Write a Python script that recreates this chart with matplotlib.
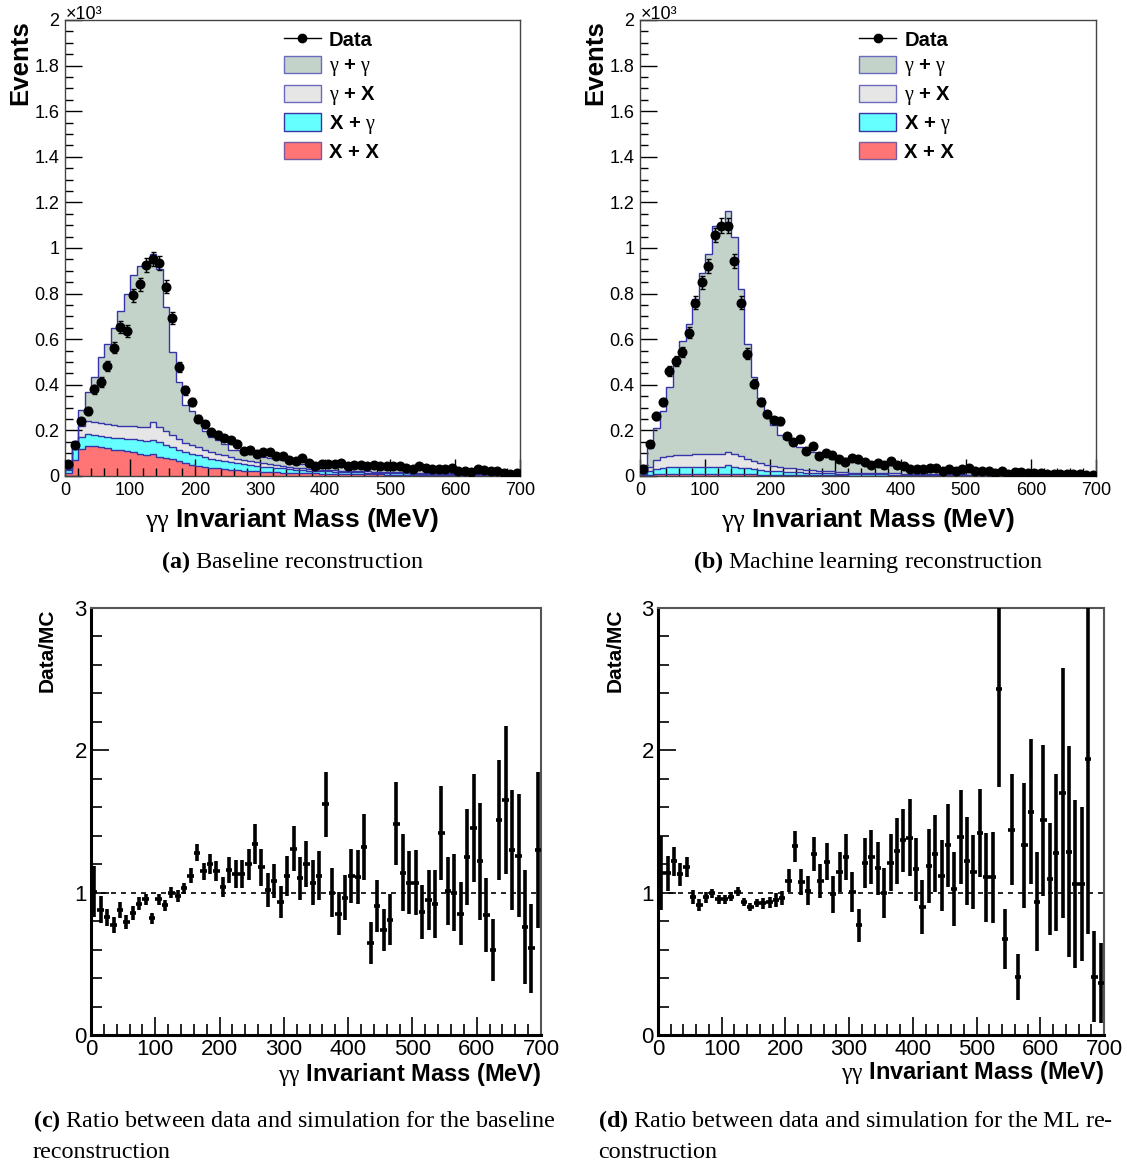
import numpy as np
import matplotlib
matplotlib.use("Agg")
import matplotlib.pyplot as plt
from matplotlib.lines import Line2D
from matplotlib.patches import Patch
from matplotlib.ticker import MultipleLocator, FuncFormatter

plt.rcParams['font.family'] = ['Liberation Sans', 'DejaVu Sans']
plt.rcParams['mathtext.fontset'] = 'custom'
plt.rcParams['mathtext.rm'] = 'Liberation Serif'
plt.rcParams['mathtext.it'] = 'Liberation Serif:italic'
plt.rcParams['mathtext.bf'] = 'Liberation Serif:bold'

# ---------------- data ----------------
edges = np.arange(0, 701, 10)
centers = edges[:-1] + 5

# Panel (a): baseline reconstruction
data_a = [54, 137, 240, 285, 380, 412, 481, 562, 654, 636, 792, 840, 925, 952, 935, 830, 694, 478, 376, 325,
          251, 226, 193, 182, 166, 156, 140, 108, 115, 98, 105, 105, 87, 87, 68, 65, 81, 56, 46, 54, 54, 54, 56,
          43, 48, 48, 43, 49, 43, 45, 45, 43, 34, 29, 43, 36, 29, 29, 29, 36, 21, 21, 17, 29, 25, 21, 21, 11, 8, 11]
mc_total_a = [50, 152, 290, 367, 433, 520, 580, 650, 725, 800, 880, 922, 930, 972, 908, 740, 542, 414, 312, 283,
              236, 198, 172, 160, 140, 116, 112, 103, 98, 94, 85, 78, 76, 70, 64, 58, 52, 54, 52, 52, 48, 48, 44,
              50, 48, 46, 45, 40, 39, 40, 40, 39, 36, 33, 31, 32, 29, 30, 26, 25, 21, 22, 22, 18, 16, 16, 16, 13, 12, 9]
xx_a = [15, 70, 118, 133, 130, 126, 122, 116, 112, 108, 104, 98, 92, 95, 85, 78, 74, 66, 58, 50,
        42, 38, 36, 33, 30, 28, 26, 24, 22, 21, 19, 18, 17, 15, 14, 13, 12, 11, 11, 10,
        10, 9, 9, 8, 8, 8, 7, 7, 7, 6, 6, 6, 5, 5, 5, 5, 4, 4, 4, 4, 4, 3, 3, 3, 3, 3, 2, 2, 2, 2]
xg_a = [10, 50, 52, 52, 50, 50, 50, 52, 54, 56, 58, 60, 62, 65, 62, 58, 52, 48, 46, 46,
        48, 44, 40, 37, 35, 32, 30, 28, 26, 24, 22, 20, 19, 18, 16, 15, 14, 13, 12, 11,
        10, 10, 9, 9, 8, 8, 8, 7, 7, 7, 6, 6, 6, 5, 5, 5, 5, 4, 4, 4, 4, 3, 3, 3, 3, 3, 2, 2, 2, 2]
gx_a = [5, 20, 48, 56, 58, 56, 56, 55, 55, 55, 56, 58, 60, 75, 70, 62, 55, 48, 42, 38,
        36, 33, 30, 28, 25, 22, 20, 18, 17, 16, 14, 13, 12, 11, 10, 9, 9, 8, 8, 7,
        7, 6, 6, 6, 5, 5, 5, 5, 4, 4, 4, 4, 4, 3, 3, 3, 3, 3, 3, 3, 2, 2, 2, 2, 2, 2, 2, 2, 1, 1]

# Panel (b): machine learning reconstruction
data_b = [32, 141, 263, 325, 461, 503, 544, 629, 760, 849, 922, 1057, 1097, 1097, 944, 760, 537, 405, 325, 270,
          244, 240, 174, 149, 163, 109, 130, 87, 100, 93, 76, 61, 78, 73, 61, 49, 58, 49, 64, 49,
          43, 29, 32, 32, 34, 34, 24, 29, 24, 29, 34, 20, 20, 24, 14, 20, 7, 17, 17, 14,
          13, 13, 10, 10, 10, 7, 10, 7, 5, 5]
mc_total_b = [28, 124, 212, 287, 390, 500, 594, 665, 775, 889, 972, 1095, 1095, 1162, 1048, 818, 579, 433, 343, 284,
              222, 179, 162, 147, 128, 100, 107, 88, 87, 74, 75, 79, 64, 58, 52, 49, 48, 38, 47, 35,
              37, 32, 27, 25, 30, 26, 23, 21, 20, 25, 24, 18, 18, 14, 18, 14, 15, 13, 11, 13,
              10, 11, 9, 7, 8, 7, 8, 5, 8, 8]
xx_b = [3, 6, 8, 9, 10, 10, 10, 10, 10, 10, 10, 10, 10, 10, 9, 8, 8, 7, 6, 6,
        5, 5, 4, 4, 4, 4, 3, 3, 3, 3, 3, 3, 2, 2, 2, 2, 2, 2, 2, 2,
        1, 1, 1, 1, 1, 1, 1, 1, 1, 1, 1, 1, 1, 1, 1, 1, 1, 1, 1, 1, 1, 1, 1, 1, 1, 1, 1, 1, 1, 1]
xg_b = [5, 15, 22, 25, 28, 28, 28, 28, 28, 28, 30, 28, 28, 40, 32, 28, 25, 22, 20, 18,
        17, 15, 14, 13, 12, 11, 10, 9, 8, 8, 7, 7, 6, 6, 6, 5, 5, 5, 4, 4,
        4, 4, 4, 3, 3, 3, 3, 3, 3, 3, 2, 2, 2, 2, 2, 2, 2, 2, 2, 2, 2, 2, 2, 1, 1, 1, 1, 1, 1, 1]
gx_b = [4, 20, 40, 48, 50, 52, 55, 56, 57, 58, 58, 58, 60, 55, 55, 50, 42, 36, 30, 25,
        22, 20, 18, 16, 15, 13, 12, 11, 10, 9, 8, 8, 7, 7, 6, 6, 6, 5, 5, 5,
        4, 4, 4, 4, 4, 3, 3, 3, 3, 3, 3, 3, 2, 2, 2, 2, 2, 2, 2, 2, 2, 2, 1, 1, 1, 1, 1, 1, 1, 1]

# Panel (c): ratio baseline
ratio_c = [1.007, 0.88, 0.826, 0.775, 0.88, 0.795, 0.856, 0.923, 0.953, 0.82,
           0.953, 0.91, 1.0, 0.977, 1.03, 1.12, 1.28, 1.15, 1.2, 1.15,
           1.04, 1.16, 1.13, 1.13, 1.2, 1.34, 1.18, 1.02, 1.08, 0.935,
           1.12, 1.31, 1.1, 1.2, 1.07, 1.12, 1.62, 1.0, 0.853, 0.965,
           1.12, 1.11, 1.32, 0.646, 0.907, 0.737, 0.81, 1.485, 1.14, 1.07,
           1.07, 0.865, 0.946, 0.92, 1.42, 1.01, 1.0, 0.853, 1.25, 1.455,
           1.22, 0.844, 0.597, 1.51, 1.65, 1.3, 1.26, 0.76, 0.608, 1.3]
err_c = [0.18, 0.095, 0.06, 0.055, 0.055, 0.05, 0.05, 0.045, 0.04, 0.04,
         0.04, 0.04, 0.04, 0.04, 0.04, 0.05, 0.06, 0.06, 0.07, 0.07,
         0.07, 0.09, 0.1, 0.1, 0.11, 0.14, 0.13, 0.12, 0.12, 0.11,
         0.14, 0.16, 0.15, 0.16, 0.16, 0.17, 0.23, 0.17, 0.15, 0.16,
         0.19, 0.19, 0.23, 0.15, 0.18, 0.15, 0.18, 0.29, 0.27, 0.22,
         0.23, 0.19, 0.21, 0.24, 0.33, 0.24, 0.27, 0.22, 0.34, 0.38,
         0.41, 0.26, 0.22, 0.42, 0.52, 0.42, 0.43, 0.4, 0.31, 0.55]

# Panel (d): ratio ML
ratio_d = [1.14, 1.135, 1.22, 1.13, 1.18, 0.972, 0.914, 0.967, 0.995, 0.953,
           0.953, 0.972, 1.007, 0.933, 0.898, 0.926, 0.926, 0.933, 0.95, 0.96,
           1.084, 1.326, 1.077, 1.014, 1.27, 1.084, 1.216, 0.99, 1.147, 1.25,
           1.007, 0.77, 1.21, 1.25, 1.17, 0.995, 1.21, 1.294, 1.368, 1.385,
           1.163, 0.897, 1.186, 1.275, 1.12, 1.333, 1.026, 1.39, 1.22, 1.147,
           1.42, 1.107, 1.107, 2.43, 0.676, 1.443, 0.408, 1.333, 1.57, 0.937,
           1.508, 1.096, 1.282, 1.7, 1.287, 1.06, 1.06, 1.94, 0.408, 0.366]
err_d = [0.26, 0.12, 0.1, 0.08, 0.07, 0.05, 0.04, 0.04, 0.03, 0.03,
         0.03, 0.03, 0.03, 0.03, 0.03, 0.03, 0.04, 0.04, 0.05, 0.05,
         0.08, 0.11, 0.09, 0.1, 0.12, 0.12, 0.13, 0.13, 0.14, 0.16,
         0.14, 0.115, 0.175, 0.19, 0.185, 0.175, 0.2, 0.23, 0.22, 0.27,
         0.22, 0.19, 0.26, 0.27, 0.25, 0.29, 0.26, 0.33, 0.31, 0.26,
         0.31, 0.31, 0.32, 0.69, 0.21, 0.39, 0.16, 0.44, 0.51, 0.35,
         0.53, 0.39, 0.55, 0.88, 0.74, 0.59, 0.54, 1.23, 0.32, 0.28]

# ---------------- styles ----------------
C_GG = '#c3d3c9'
C_GX = '#e6e6e6'
C_XG = '#66ffff'
C_XX = '#ff7474'
C_EDGE = '#3535a8'

W, H = 1136, 1167
fig = plt.figure(figsize=(W / 100, H / 100), dpi=100)


def rect(l, t, r, b):
    return [l / W, 1 - b / H, (r - l) / W, (b - t) / H]


def fx(px):
    return px / W


def fy(py):
    return 1 - py / H


GG_LABEL = r'$\mathrm{\gamma\gamma}$ Invariant Mass (MeV)'


def stack_panel(ax, data, total, xx, xg, gx):
    xx = np.array(xx, float)
    xg = np.array(xg, float)
    gx = np.array(gx, float)
    total = np.array(total, float)
    c1 = xx
    c2 = c1 + xg
    c3 = c2 + gx
    c4 = total
    layers = [(c4, c3, C_GG), (c3, c2, C_GX), (c2, c1, C_XG), (c1, np.zeros_like(c1), C_XX)]
    for top, base, col in layers:
        ax.stairs(top, edges, baseline=base, fill=True, facecolor=col, edgecolor='none', zorder=1)
    for top, base, col in layers:
        ax.stairs(top, edges, baseline=None, fill=False, color=C_EDGE, lw=1.0, zorder=2)
    d = np.array(data, float)
    ax.errorbar(centers, d, yerr=np.sqrt(d), fmt='o', color='k', ms=6.2, elinewidth=1.0,
                capsize=1.8, capthick=1.0, zorder=5)
    ax.set_xlim(0, 700)
    ax.set_ylim(0, 2000)
    ax.xaxis.set_major_locator(MultipleLocator(100))
    ax.xaxis.set_minor_locator(MultipleLocator(20))
    ax.yaxis.set_major_locator(MultipleLocator(200))
    ax.yaxis.set_minor_locator(MultipleLocator(50))
    ax.yaxis.set_major_formatter(FuncFormatter(lambda v, p: f"{v / 1000:g}"))
    ax.tick_params(which='both', direction='in', top=False, right=False, labelsize=13, pad=4, width=1)
    ax.tick_params(which='major', length=12)
    ax.tick_params(which='minor', length=6)
    for s in ax.spines.values():
        s.set_linewidth(1.0)
        s.set_color('#444444')
    handles = [Line2D([0], [0], color='k', marker='o', ms=6, lw=1),
               Patch(facecolor=C_GG, edgecolor='#6a6ac0'),
               Patch(facecolor=C_GX, edgecolor='#6a6ac0'),
               Patch(facecolor=C_XG, edgecolor=C_EDGE),
               Patch(facecolor=C_XX, edgecolor='#7a5aa0')]
    labels = ['Data', r'$\mathrm{\gamma}$ + $\mathrm{\gamma}$', r'$\mathrm{\gamma}$ + X',
              r'X + $\mathrm{\gamma}$', 'X + X']
    ax.legend(handles, labels, loc='upper left', bbox_to_anchor=(0.463, 0.995), frameon=False,
              prop={'weight': 'bold', 'size': 14.5}, handlelength=1.85, handleheight=0.95,
              labelspacing=0.29, handletextpad=0.4, borderaxespad=0.0)


def ratio_panel(ax, r, e):
    ax.axhline(1.0, color='k', lw=1.2, ls=(0, (3, 3)), zorder=1)
    ax.errorbar(centers, r, yerr=e, xerr=5, fmt='none', ecolor='k', elinewidth=2.6, capsize=0, zorder=3)
    ax.set_xlim(0, 700)
    ax.set_ylim(0, 3)
    ax.xaxis.set_major_locator(MultipleLocator(100))
    ax.xaxis.set_minor_locator(MultipleLocator(20))
    ax.yaxis.set_major_locator(MultipleLocator(1))
    ax.yaxis.set_minor_locator(MultipleLocator(0.2))
    ax.tick_params(which='both', direction='in', top=False, right=False, labelsize=16, pad=3, width=1.2)
    ax.tick_params(which='major', length=13)
    ax.tick_params(which='minor', length=8)
    ax.spines['left'].set_linewidth(2.2)
    ax.spines['bottom'].set_linewidth(2.2)
    ax.spines['left'].set_color('k')
    ax.spines['bottom'].set_color('k')
    for s in ('top', 'right'):
        ax.spines[s].set_linewidth(1.5)
        ax.spines[s].set_color('#555555')


axA = fig.add_axes(rect(65, 20, 520, 476))
axB = fig.add_axes(rect(640, 20, 1096, 476))
axC = fig.add_axes(rect(91, 608, 541, 1035))
axD = fig.add_axes(rect(658, 608, 1104, 1035))

stack_panel(axA, data_a, mc_total_a, xx_a, xg_a, gx_a)
stack_panel(axB, data_b, mc_total_b, xx_b, xg_b, gx_b)
ratio_panel(axC, ratio_c, err_c)
ratio_panel(axD, ratio_d, err_d)

# axis titles for the top panels
for xl in (20, 595):
    fig.text(fx(xl), fy(20), 'Events', rotation=90, ha='center', va='top', fontsize=18.5, fontweight='bold')
for xa in (65, 640):
    fig.text(fx(xa + 1), fy(19), '×10³', ha='left', va='baseline', fontsize=13)
for xc in (292, 868):
    fig.text(fx(xc), fy(520), GG_LABEL, ha='center', va='center', fontsize=19, fontweight='bold')

# ratio panels titles
for xl in (47, 615):
    fig.text(fx(xl), fy(608), 'Data/MC', rotation=90, ha='center', va='top', fontsize=15, fontweight='bold')
fig.text(fx(541), fy(1075), GG_LABEL, ha='right', va='center', fontsize=17, fontweight='bold')
fig.text(fx(1104), fy(1073), GG_LABEL, ha='right', va='center', fontsize=17, fontweight='bold')

# captions
cap_kw = dict(fontsize=17.4, family=['Liberation Serif'])
fig.text(fx(292), fy(562), r'$\mathbf{(a)}$ Baseline reconstruction', ha='center', va='center', **cap_kw)
fig.text(fx(868), fy(562), r'$\mathbf{(b)}$ Machine learning reconstruction', ha='center', va='center', **cap_kw)
fig.text(fx(33), fy(1121), r'$\mathbf{(c)}$ Ratio between data and simulation for the baseline',
         ha='left', va='center', **cap_kw)
fig.text(fx(33), fy(1152), 'reconstruction', ha='left', va='center', **cap_kw)
fig.text(fx(598), fy(1121), r'$\mathbf{(d)}$ Ratio between data and simulation for the ML re-',
         ha='left', va='center', **cap_kw)
fig.text(fx(598), fy(1152), 'construction', ha='left', va='center', **cap_kw)

fig.savefig('out.png', dpi=100)
